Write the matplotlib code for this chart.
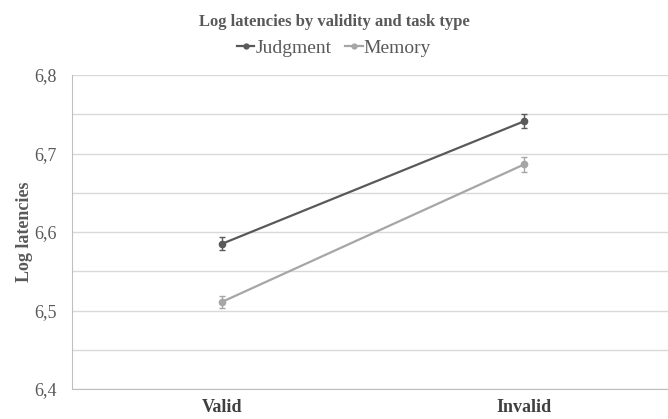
import matplotlib.pyplot as plt
from matplotlib.lines import Line2D
from matplotlib.ticker import MultipleLocator, FuncFormatter

# データ
conditions = ['Valid', 'Invalid']
judgment = [6.585, 6.741]
judgment_err = [0.0085, 0.009]
memory = [6.511, 6.686]
memory_err = [0.008, 0.009]

plt.rcParams['font.family'] = ['Liberation Serif', 'DejaVu Serif']

fig = plt.figure(figsize=(6.68, 4.19), dpi=100)
ax = fig.add_axes([72/668, 1-389/419, 596/668, 314/419])

x = list(range(len(conditions)))
ax.errorbar(x, judgment, yerr=judgment_err, color='#595959', lw=1.6,
            marker='o', ms=4.5, capsize=2.5, elinewidth=1, zorder=3)
ax.errorbar(x, memory, yerr=memory_err, color='#A6A6A6', lw=1.6,
            marker='o', ms=4.5, capsize=2.5, elinewidth=1, zorder=3)

ax.set_xlim(-0.497, 1.477)
ax.set_ylim(6.4, 6.8)
ax.yaxis.set_major_locator(MultipleLocator(0.1))
ax.yaxis.set_minor_locator(MultipleLocator(0.05))
ax.yaxis.set_major_formatter(FuncFormatter(lambda v, p: f'{v:.1f}'.replace('.', ',')))
ax.grid(True, axis='y', which='both', color='#D9D9D9', lw=1)
ax.set_axisbelow(True)

ax.set_xticks(x)
ax.set_xticklabels(conditions, fontweight='bold', fontsize=13, color='#404040')
ax.tick_params(axis='both', which='both', length=0)
ax.tick_params(axis='y', labelsize=13, labelcolor='#595959', pad=11)
ax.tick_params(axis='x', pad=7)

for s in ['top', 'right']:
    ax.spines[s].set_visible(False)
ax.spines['left'].set_color('#BFBFBF')
ax.spines['bottom'].set_color('#BFBFBF')

ax.set_ylabel('Log latencies', fontweight='bold', fontsize=13, color='#595959', labelpad=1)

fig.text(0.5, 1-22/419, 'Log latencies by validity and task type', ha='center', va='center',
         fontweight='bold', fontsize=12, color='#595959')

handles = [Line2D([], [], color='#595959', lw=1.6, marker='o', ms=3.5),
           Line2D([], [], color='#A6A6A6', lw=1.6, marker='o', ms=3.5)]
fig.legend(handles, ['Judgment', 'Memory'], loc='center', bbox_to_anchor=(0.5, 1-48/419),
           ncol=2, frameon=False, fontsize=14, handlelength=0.9, handletextpad=0.05,
           columnspacing=0.7, labelcolor='#595959')

plt.savefig('out.png')
